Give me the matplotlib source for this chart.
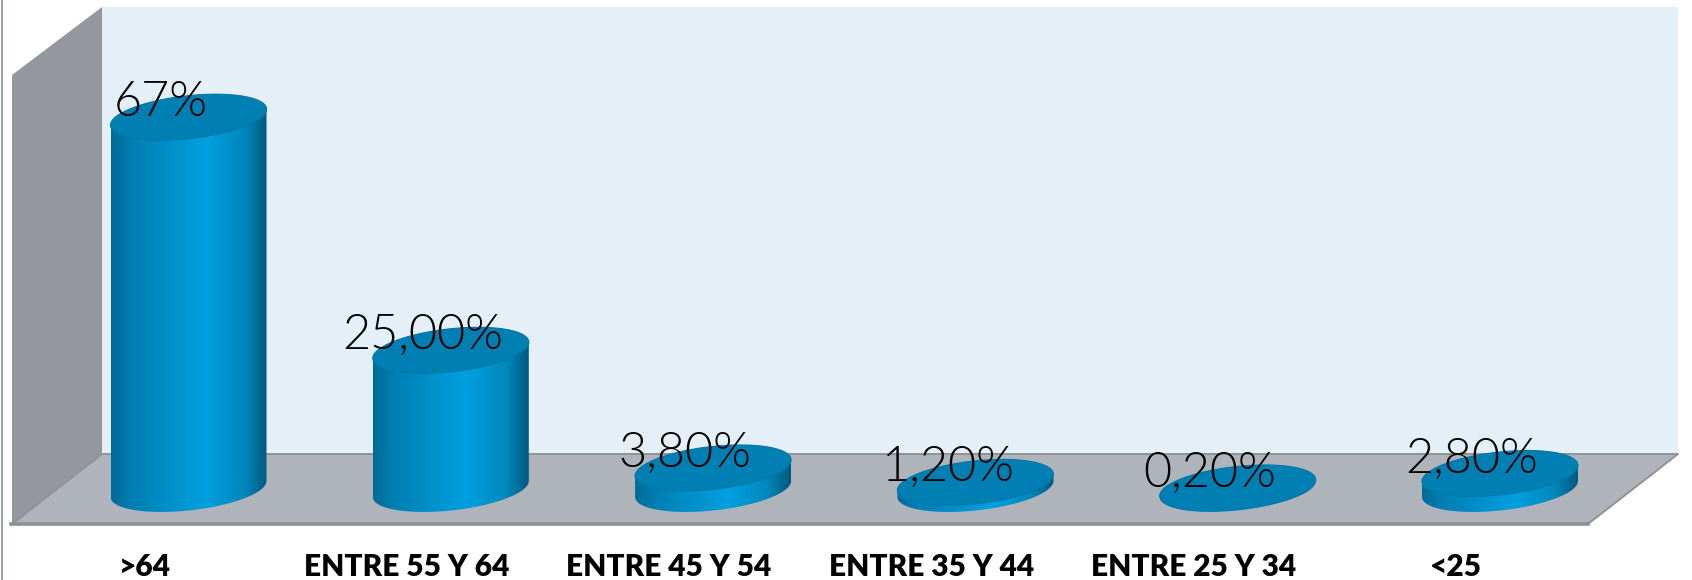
import numpy as np
import matplotlib
matplotlib.use('Agg')
import matplotlib.pyplot as plt
from matplotlib.colors import LinearSegmentedColormap
from matplotlib.patches import Polygon

# Datos del grafico
categorias = ['>64', 'ENTRE 55 Y 64', 'ENTRE 45 Y 54', 'ENTRE 35 Y 44', 'ENTRE 25 Y 34', '<25']
valores = [67, 25, 3.8, 1.2, 0.2, 2.8]
etiquetas = ['67%', '25,00%', '3,80%', '1,20%', '0,20%', '2,80%']

W, H = 1692, 580
# Escala de pixeles: categoria 0 en x=188.5, valor 0 en y=489
PX_CAT = 262.3
PX_VAL = 5.55
X0, Y0 = 188.5, 489

fig = plt.figure(figsize=(W / 100, H / 100), dpi=100)

# Fondo: paredes y suelo en pixeles
fondo = fig.add_axes([0, 0, 1, 1])
fondo.set_xlim(0, W)
fondo.set_ylim(H, 0)
fondo.axis('off')
fondo.add_patch(Polygon([(102, 7), (1678, 7), (1678, 454), (102, 454)], fc='#e4eff8', ec='none'))
fondo.add_patch(Polygon([(12, 75), (102, 7), (102, 454), (12, 524)], fc='#94989e', ec='none'))
fondo.add_patch(Polygon([(12, 524), (102, 454), (1678, 454), (1588, 524)], fc='#aeb4ba', ec='none'))
fondo.plot([12, 102, 1678, 1588], [524, 454, 454, 524], color='#909295', lw=1.4)
fondo.plot([11, 1588], [524, 524], color='#8e9092', lw=2.6)
fondo.plot([2, 2], [0, H], color='#9ea2ac', lw=1.4)

# Barras: eje con categorias y valores
ax = fig.add_axes([0, 0, 1, 1])
ax.patch.set_alpha(0)
ax.axis('off')
xlim = ((0 - X0) / PX_CAT, (W - X0) / PX_CAT)
ylim = ((Y0 - H) / PX_VAL, Y0 / PX_VAL)

degradado = LinearSegmentedColormap.from_list('cilindro', [
    (0.0, '#006a97'), (0.14, '#0080b4'), (0.6, '#00a0e0'), (0.85, '#0088bd'), (1.0, '#00587d')])
RX = 78 / PX_CAT
INCL = 8 / PX_VAL
RY = 21.5 / PX_VAL


def elipse(x, v, t):
    return np.column_stack([x + RX * np.cos(t), v + INCL * np.cos(t) + RY * np.sin(t)])


for i, (v, txt) in enumerate(zip(valores, etiquetas)):
    abajo = elipse(i, 0, np.linspace(0, -np.pi, 80))
    arriba = elipse(i, v, np.linspace(np.pi, 0, 80))
    cuerpo = Polygon(np.vstack([abajo, arriba]), fc='none', ec='none', transform=ax.transData)
    ax.add_patch(cuerpo)
    im = ax.imshow(np.linspace(0, 1, 256).reshape(1, -1), cmap=degradado, aspect='auto',
                   extent=(i - RX, i + RX, -10, v + 15), zorder=2)
    im.set_clip_path(cuerpo)
    tapa = Polygon(elipse(i, v, np.linspace(0, 2 * np.pi, 160)), fc='#007fb3', ec='#0078a9', lw=0.8, zorder=3)
    ax.add_patch(tapa)
    ax.text(i - 28 / PX_CAT, v + 1 / PX_VAL, txt, ha='center', va='baseline', fontsize=35,
            family='Lato', weight=300, color='black', zorder=4)
    ax.text(i - 44 / PX_CAT, (Y0 - 567) / PX_VAL, categorias[i], ha='center', va='center',
            fontsize=21.5, family='Lato', weight=800, color='black', zorder=4)

ax.set_xlim(xlim)
ax.set_ylim(ylim)

fig.savefig('out.png', dpi=100)
